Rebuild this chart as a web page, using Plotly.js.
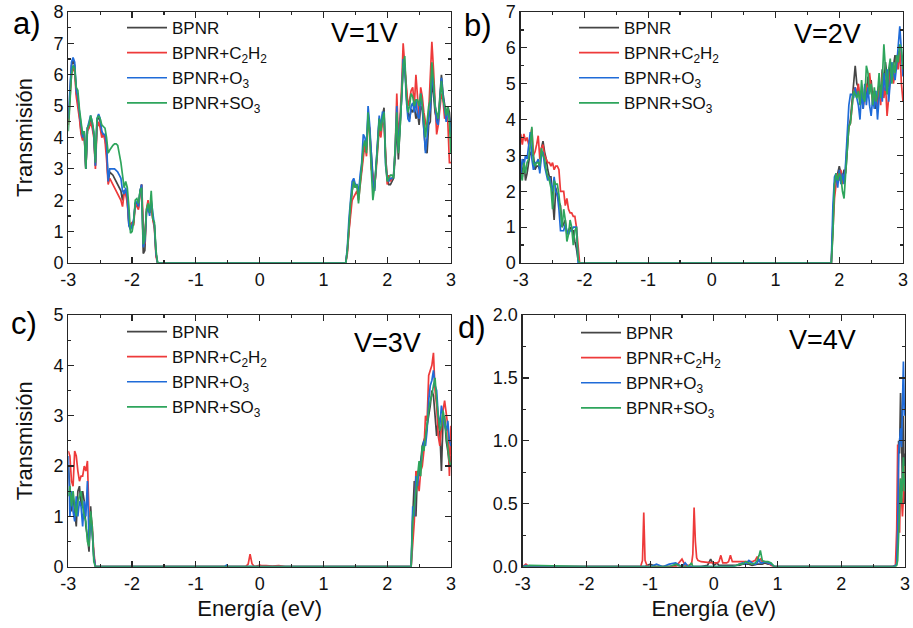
<!DOCTYPE html>
<html><head><meta charset="utf-8">
<script src="https://cdn.plot.ly/plotly-3.0.1.min.js"></script>
<style>html,body{margin:0;padding:0;background:#fff}#chart{width:913px;height:628px}</style>
</head><body><div id="chart"></div>
<script>
// ---- shared ----
const seriesNames = ['BPNR', 'BPNR+C<sub>2</sub>H<sub>2</sub>', 'BPNR+O<sub>3</sub>', 'BPNR+SO<sub>3</sub>'];
const seriesColors = ['#454545', '#ee3a3a', '#1f6bd8', '#2ea55c'];
const xTickVals = [-3, -2, -1, 0, 1, 2, 3];
const xTickText = ['-3', '-2', '-1', '0', '1', '2', '3'];
const panelLabels = ['a)', 'b)', 'c)', 'd)'];
const voltageLabels = ['V=1V', 'V=2V', 'V=3V', 'V=4V'];

// ---- panel a: V=1V ----
const aEnergy = [-3,-2.975,-2.95,-2.925,-2.9,-2.875,-2.85,-2.825,-2.8,-2.775,-2.75,-2.725,-2.7,-2.675,-2.65,-2.625,-2.6,-2.575,-2.55,-2.525,-2.5,-2.475,-2.45,-2.425,-2.4,-2.375,-2.35,-2.325,-2.3,-2.275,-2.25,-2.225,-2.2,-2.175,-2.15,-2.125,-2.1,-2.075,-2.05,-2.025,-2,-1.975,-1.95,-1.925,-1.9,-1.875,-1.85,-1.825,-1.8,-1.775,-1.75,-1.725,-1.7,-1.675,-1.65,-1.625,-1.6,
1.35,1.375,1.4,1.425,1.45,1.475,1.5,1.525,1.55,1.575,1.6,1.625,1.65,1.675,1.7,1.725,1.75,1.775,1.8,1.825,1.85,1.875,1.9,1.925,1.95,1.975,2,2.025,2.05,2.075,2.1,2.125,2.15,2.175,2.2,2.225,2.25,2.275,2.3,2.325,2.35,2.375,2.4,2.425,2.45,2.475,2.5,2.525,2.55,2.575,2.6,2.625,2.65,2.675,2.7,2.725,2.75,2.775,2.8,2.825,2.85,2.875,2.9,2.925,2.95,2.975,3];
const aBPNR = [4.5,5.5,6.3,6.45,6.3,5.4,5.2,4.7,4.2,4.0,4.15,3.0,4.3,4.4,4.6,4.4,4.1,3.1,4.5,4.7,4.5,4.1,4.1,4.0,3.6,2.6,2.9,2.85,2.8,2.7,2.6,2.5,2.4,2.3,2.0,2.3,2.3,2.0,1.2,1.1,1.2,1.3,1.9,1.9,1.75,2.3,2.5,0.3,0.4,1.6,1.9,1.6,1.9,1.4,1.2,0.3,0,
0,0.4,1.2,1.7,2.3,2.6,2.4,2.5,2.2,2.6,3.0,3.6,3.9,3.6,4.7,4.2,3.3,2.8,2.3,3.0,3.8,4.6,4.2,4.7,4.95,3.4,2.7,2.5,2.5,2.6,2.7,3.4,4.4,3.3,4.3,5.0,6.2,6.2,5.5,4.8,4.6,4.9,4.8,5.0,4.6,4.8,4.4,5.0,4.9,4.3,3.6,3.5,4.4,4.5,5.8,5.4,4.8,4.6,4.5,5.3,6.0,5.4,5.0,4.7,5.0,4.8,4.2];
const aC2H2 = [4.4,5.4,6.0,6.2,6.1,5.3,5.0,4.6,4.1,3.9,4.1,3.0,4.2,4.3,4.5,4.3,4.0,3.0,4.3,4.5,4.3,4.0,4.1,3.9,3.3,2.5,2.7,2.6,2.5,2.4,2.3,2.2,2.1,2.0,1.8,2.2,2.2,1.9,1.3,1.2,1.3,1.2,1.9,1.8,1.7,2.2,2.5,1.3,0.6,1.7,2.0,1.7,1.8,1.4,1.1,0.2,0,
0,0.3,1.0,1.6,2.0,2.1,2.2,2.3,2.0,2.5,2.9,3.5,3.8,3.4,4.5,4.3,3.0,2.8,2.4,2.9,3.5,4.3,4.0,4.5,4.4,3.2,2.5,2.8,2.6,2.7,2.8,3.6,5.4,4.0,4.6,5.6,7.0,6.3,5.6,5.0,5.2,5.5,5.6,5.0,6.0,5.2,4.6,5.6,5.3,4.8,4.5,4.2,4.8,6.0,7.05,6.2,5.0,4.1,4.4,5.0,5.4,5.2,4.6,4.8,4.5,3.2,3.2];
const aO3 = [4.6,5.6,6.4,6.55,6.4,5.5,5.3,4.8,4.3,4.0,4.2,3.0,4.3,4.5,4.7,4.5,4.1,3.1,4.6,4.75,4.6,4.2,4.1,4.1,3.8,2.6,3.0,3.0,3.0,3.0,2.95,2.9,2.8,2.7,2.3,2.2,2.4,2.1,1.2,1.05,1.2,1.4,1.9,1.95,1.8,2.3,2.5,0.5,0.7,1.6,1.8,1.5,2.0,1.5,1.2,0.3,0,
0,0.5,1.4,2.1,2.6,2.7,2.5,2.5,2.2,2.8,3.2,4.1,4.0,3.7,5.0,4.4,3.4,2.6,2.3,3.1,3.9,4.7,4.3,4.8,4.8,3.1,2.7,2.6,2.7,2.7,2.8,3.6,5.0,3.6,4.4,5.2,6.5,6.3,5.2,4.6,4.5,5.0,5.1,4.8,5.2,4.7,4.6,5.4,5.0,4.2,3.5,4.0,4.6,4.9,6.0,5.6,4.9,4.5,4.4,5.1,5.9,5.3,4.8,4.5,4.9,4.6,4.0];
const aSO3 = [4.2,5.3,6.0,6.3,6.2,5.6,5.5,4.9,4.4,4.1,4.2,3.0,4.3,4.4,4.7,4.5,4.2,3.2,4.6,4.7,4.6,4.4,4.35,4.3,4.0,3.5,3.6,3.7,3.75,3.8,3.8,3.75,3.5,3.2,2.8,2.4,2.6,2.4,1.8,0.95,1.0,1.3,2.0,2.05,1.9,2.3,2.4,0.6,0.8,1.7,1.9,1.6,2.3,1.4,1.3,0.4,0,
0,0.4,1.2,1.9,2.3,2.6,2.4,2.5,1.9,2.6,3.0,3.7,3.9,3.5,4.8,4.1,3.0,2.0,2.4,3.0,3.7,4.6,4.2,4.6,4.8,3.2,2.6,2.7,2.8,2.8,2.7,3.7,4.8,3.5,4.2,5.3,6.3,6.6,5.3,4.8,5.0,5.4,5.3,5.0,5.2,5.2,5.0,5.4,5.0,4.6,4.0,4.6,5.0,5.2,6.4,5.8,5.0,4.8,4.6,5.2,5.8,5.2,5.0,4.7,5.0,4.5,3.5];

// ---- panel b: V=2V ----
const bEnergy = [-3,-2.975,-2.95,-2.925,-2.9,-2.875,-2.85,-2.825,-2.8,-2.775,-2.75,-2.725,-2.7,-2.675,-2.65,-2.625,-2.6,-2.575,-2.55,-2.525,-2.5,-2.475,-2.45,-2.425,-2.4,-2.375,-2.35,-2.325,-2.3,-2.275,-2.25,-2.225,-2.2,-2.175,-2.15,-2.125,-2.1,-2.075,
1.875,1.9,1.925,1.95,1.975,2,2.025,2.05,2.075,2.1,2.125,2.15,2.175,2.2,2.225,2.25,2.275,2.3,2.325,2.35,2.375,2.4,2.425,2.45,2.475,2.5,2.525,2.55,2.575,2.6,2.625,2.65,2.675,2.7,2.725,2.75,2.775,2.8,2.825,2.85,2.875,2.9,2.925,2.95,2.975,3];
const bBPNR = [2.8,2.4,2.9,2.3,2.5,2.8,3.1,3.0,3.0,2.6,2.7,2.7,2.6,3.2,3.4,3.1,2.9,2.6,2.4,2.4,1.9,1.2,2.1,1.9,1.7,1.6,1.0,1.1,1.2,0.8,0.9,1.0,0.9,0.9,0.6,0.4,0.1,0,
0,1.0,2.2,2.4,2.5,2.7,2.5,2.4,2.6,2.5,3.2,3.8,4.0,4.5,5.0,5.5,5.0,4.9,4.5,4.7,4.3,4.9,4.6,5.2,4.8,5.1,4.6,4.8,4.3,4.6,5.0,4.7,5.4,5.0,5.6,5.2,4.9,5.6,5.2,5.5,5.8,5.4,5.9,5.7,5.8,5.6];
const bC2H2 = [3.6,3.3,3.6,3.4,3.5,3.3,3.5,3.75,3.0,3.1,3.3,3.55,2.9,3.2,3.3,3.0,2.9,2.8,2.8,2.7,2.8,2.6,2.7,2.7,2.6,2.0,2.0,2.0,1.6,1.8,1.5,1.4,1.4,1.3,1.3,1.0,0.5,0,
0,0.9,1.8,2.2,2.5,2.3,2.6,2.2,2.4,2.6,3.4,3.8,3.9,4.3,4.8,4.9,4.7,5.0,4.5,4.8,4.4,4.6,5.0,4.7,5.3,4.9,4.4,4.7,4.5,4.3,4.9,4.4,5.3,4.6,5.0,4.1,4.6,5.3,5.5,5.0,5.3,5.7,5.4,6.0,5.0,4.5];
const bO3 = [2.5,2.9,2.7,3.0,2.9,3.3,3.65,2.9,2.6,2.8,2.8,2.9,2.5,3.0,3.1,2.7,2.5,2.3,2.4,2.2,2.0,2.4,2.0,1.9,1.5,0.9,0.9,0.9,1.1,0.9,0.8,0.9,0.9,1.0,1.0,1.0,0,0,
0,1.6,2.4,2.5,2.1,2.6,2.2,2.5,2.2,2.8,3.8,4.4,4.7,4.7,4.6,4.9,4.6,4.4,4.0,4.8,4.3,5.0,4.4,4.9,4.4,4.1,4.6,4.3,4.8,4.0,4.6,4.9,4.5,5.3,4.8,5.4,4.5,5.0,5.6,5.3,5.1,5.5,6.0,6.6,5.9,5.2];
const bSO3 = [2.5,2.3,2.8,2.5,2.8,2.9,3.3,3.8,2.8,2.7,2.8,2.8,2.7,3.2,3.0,2.9,2.6,2.4,2.3,2.1,1.5,2.3,2.2,2.2,1.9,1.5,1.0,1.5,1.2,0.6,0.8,1.2,1.0,0.5,0.9,1.0,0.1,0,
0,0.8,2.2,2.5,2.3,2.5,2.4,2.0,1.8,2.5,3.3,3.8,3.9,4.4,4.8,4.7,4.6,4.8,4.4,5.1,4.6,4.5,5.5,5.3,4.7,5.0,4.4,4.9,4.5,4.7,5.3,4.6,5.1,6.1,5.4,4.7,5.4,5.7,5.0,5.6,5.3,5.8,5.6,6.1,6.0,5.4];

// ---- panel c: V=3V ----
const cEnergy = [-3,-2.975,-2.95,-2.925,-2.9,-2.875,-2.85,-2.825,-2.8,-2.775,-2.75,-2.725,-2.7,-2.675,-2.65,-2.625,-2.6,-2.575,
-2.5,-0.55,-0.52,-0.5,-0.22,-0.18,-0.15,-0.12,-0.08,0,0.03,0.1,0.2,0.3,0.4,
2.375,2.4,2.425,2.45,2.475,2.5,2.525,2.55,2.575,2.6,2.625,2.65,2.675,2.7,2.725,2.75,2.775,2.8,2.825,2.85,2.875,2.9,2.925,2.95,2.975,3];
const cBPNR = [2.0,1.5,1.1,1.4,1.1,0.8,1.5,1.6,1.2,1.5,1.3,0.8,0.6,0.3,1.2,0.6,0.2,0,
0,0,0.01,0,0,0,0,0,0,0,0,0,0,0,0,
0,1.0,1.7,1.0,1.9,1.8,2.1,2.4,2.5,2.6,2.8,3.0,3.2,3.5,3.4,3.0,2.6,2.9,2.7,1.9,2.9,3.0,2.5,2.3,2.0,2.2];
const cC2H2 = [2.3,2.2,1.7,1.6,2.3,2.2,1.9,1.7,1.8,1.8,2.0,1.9,2.1,1.0,1.0,0.8,0.3,0,
0,0,0,0,0,0.05,0.25,0.06,0,0.03,0.02,0.02,0.01,0.02,0,
0,0.5,0.9,1.9,1.8,1.5,1.9,2.0,2.3,3.0,2.9,3.8,3.9,4.0,4.25,3.5,3.2,2.6,2.4,2.8,3.1,3.3,3.0,2.8,1.8,2.8];
const cO3 = [2.2,1.0,1.5,1.1,0.9,1.4,1.0,1.3,1.2,0.8,1.3,1.0,1.7,0.5,0.9,0.7,0.2,0,
0,0,0.03,0,0,0,0,0,0,0,0,0,0,0,0,
0,1.2,1.0,1.8,1.6,2.0,2.0,2.3,2.5,2.4,2.7,3.3,3.6,3.7,3.9,3.6,3.5,3.0,2.8,3.2,3.0,2.8,2.7,2.9,2.5,2.4];
const cSO3 = [1.4,1.6,1.2,1.5,1.2,1.0,1.3,1.4,1.5,1.2,1.0,0.9,0.5,0.4,1.1,0.8,0.1,0,
0,0,0,0,0,0,0,0,0,0,0,0,0,0,0,
0,0.9,1.2,1.5,1.7,2.1,1.8,2.4,2.3,2.6,2.9,3.1,3.3,3.4,3.6,3.75,3.3,3.0,2.7,2.8,3.1,2.9,2.6,2.4,2.1,2.0];

// ---- panel d: V=4V ----
const dEnergy = [-3,-2.95,-2.9,-2,-1.15,-1.12,-1.1,-1.08,-1.05,-1,-0.9,-0.8,-0.7,-0.6,-0.5,-0.45,-0.4,-0.35,-0.33,-0.31,-0.29,-0.27,-0.25,-0.2,-0.1,-0.05,0,0.05,0.08,0.11,0.14,0.2,0.23,0.26,0.29,0.35,0.4,0.45,0.5,0.55,0.6,0.65,0.68,0.71,0.73,0.76,0.8,0.85,0.9,0.95,1.5,2.5,
2.8,2.85,2.87,2.885,2.9,2.915,2.93,2.945,2.96,2.975,2.99,3];
const dBPNR = [0,0,0,0,0,0,0,0,0.01,0.02,0,0,0,0.01,0,0,0,0,0,0,0,0,0,0,0.01,0.06,0.01,0.03,0.01,0.01,0.01,0.01,0.01,0.01,0.01,0.01,0.01,0.02,0.02,0.02,0.01,0.02,0.02,0.02,0.02,0.02,0.03,0.02,0.02,0,0,0,
0,0.01,0.05,0.3,1.0,0.9,1.38,1.1,0.6,1.2,0.5,0.9];
const dC2H2 = [0,0.02,0,0,0,0.05,0.43,0.05,0.01,0,0,0,0,0,0.06,0.01,0.01,0.02,0.1,0.47,0.2,0.07,0.05,0.04,0.035,0.03,0.03,0.03,0.04,0.09,0.03,0.03,0.04,0.09,0.04,0.04,0.04,0.04,0.04,0.04,0.04,0.05,0.08,0.05,0.06,0.04,0.04,0.03,0.01,0,0,0,
0,0.01,0.3,0.97,0.6,0.27,0.7,0.5,0.4,0.55,0.8,0.6];
const dO3 = [0,0.01,0,0,0,0,0,0,0,0,0.02,0,0.02,0.03,0,0.03,0,0,0,0,0,0,0,0,0,0,0,0,0,0,0,0,0,0,0,0.01,0.02,0.03,0.02,0.05,0.03,0.02,0.03,0.06,0.03,0.03,0.04,0.03,0.02,0,0,0,
0,0.01,0.02,0.3,0.9,1.0,1.1,0.95,1.2,1.63,1.2,1.3];
const dSO3 = [0,0,0.01,0,0,0,0,0,0,0,0,0,0,0.02,0,0,0,0.03,0,0,0,0,0,0,0,0,0,0,0,0,0,0,0,0,0,0.01,0.02,0.02,0.04,0.03,0.02,0.03,0.05,0.09,0.13,0.05,0.04,0.04,0.03,0,0,0,
0,0,0.01,0.05,0.25,0.6,0.7,0.5,0.8,0.87,0.6,0.7];

// ---- build ----
const panels = [
  {x: aEnergy, ys: [aBPNR, aC2H2, aO3, aSO3]},
  {x: bEnergy, ys: [bBPNR, bC2H2, bO3, bSO3]},
  {x: cEnergy, ys: [cBPNR, cC2H2, cO3, cSO3]},
  {x: dEnergy, ys: [dBPNR, dC2H2, dO3, dSO3]}
];
const yRanges = [[0, 8], [0, 7], [0, 5], [0, 2]];
const yDticks = [1, 1, 1, 0.5];

const W = 913, H = 628;
const px = v => v / W, py = v => 1 - v / H;
const xDomains = [[68.3, 451], [520.7, 903], [68.3, 451], [522.7, 905]];
const yDomains = [[12, 263], [12, 263], [315, 566.7], [315, 566.7]];
const legendPos = [[122, 10], [574, 10], [122, 314], [576, 315]];
const labelPos = [[11, 24], [462, 25], [9, 323], [456, 327]];
const vPos = [[364, 33], [827, 34], [387, 343], [822, 340]];

const FONT = 'Liberation Sans, Arial, sans-serif';
const AX = '#262626';
const traces = [];
const layout = {
  width: W, height: H, margin: {l: 0, r: 0, t: 0, b: 0},
  paper_bgcolor: '#fff', plot_bgcolor: '#fff',
  font: {family: FONT, color: '#111', size: 18},
  showlegend: true, annotations: []
};

panels.forEach((p, i) => {
  const n = i === 0 ? '' : String(i + 1);
  const legName = 'legend' + n;
  p.ys.forEach((y, k) => {
    traces.push({
      type: 'scatter', mode: 'lines', x: p.x, y: y,
      name: seriesNames[k], legend: legName,
      xaxis: 'x' + n, yaxis: 'y' + n,
      line: {color: seriesColors[k], width: 1.7}
    });
  });
  const common = {
    showline: true, linecolor: AX, linewidth: 1.3, mirror: 'allticks',
    ticks: 'inside', ticklen: 6, tickwidth: 1.2, tickcolor: AX,
    showgrid: false, zeroline: false, tickfont: {size: 18, family: FONT, color: '#111'}
  };
  const xa = Object.assign({}, common, {
    domain: [px(xDomains[i][0]), px(xDomains[i][1])],
    anchor: 'y' + n, range: [-3, 3],
    tickmode: 'array', tickvals: xTickVals, ticktext: xTickText,
    minor: {ticks: 'inside', ticklen: 3, tickcolor: AX, dtick: 0.5, tick0: 0, showgrid: false}
  });
  if (i >= 2) xa.title = {text: 'Energía (eV)', font: {size: 22, family: FONT, color: '#111'}, standoff: 8};
  layout['xaxis' + n] = xa;
  const ya = Object.assign({}, common, {
    domain: [py(yDomains[i][1]), py(yDomains[i][0])],
    anchor: 'x' + n, range: yRanges[i], dtick: yDticks[i], tick0: 0,
    minor: {ticks: 'inside', ticklen: 3, tickcolor: AX, dtick: yDticks[i] / 2, tick0: 0, showgrid: false}
  });
  if (i === 3) ya.tickformat = '.1f';
  if (i === 0 || i === 2) ya.title = {text: 'Transmisión', font: {size: 22, family: FONT, color: '#111'}, standoff: 14};
  layout['yaxis' + n] = ya;
  layout[legName] = {
    x: px(legendPos[i][0]), y: py(legendPos[i][1]), xanchor: 'left', yanchor: 'top',
    bgcolor: 'rgba(0,0,0,0)', borderwidth: 0, itemwidth: 40, tracegroupgap: 0,
    font: {size: 17, family: FONT, color: '#111'}
  };
  layout.annotations.push({
    text: panelLabels[i], xref: 'paper', yref: 'paper', x: px(labelPos[i][0]), y: py(labelPos[i][1]),
    xanchor: 'left', yanchor: 'middle', showarrow: false, font: {size: 31, family: FONT, color: '#000'}
  });
  layout.annotations.push({
    text: voltageLabels[i], xref: 'paper', yref: 'paper', x: px(vPos[i][0]), y: py(vPos[i][1]),
    xanchor: 'center', yanchor: 'middle', showarrow: false, font: {size: 27, family: FONT, color: '#000'}
  });
});

Plotly.newPlot('chart', traces, layout, {displayModeBar: false, staticPlot: true});
</script>
</body></html>
